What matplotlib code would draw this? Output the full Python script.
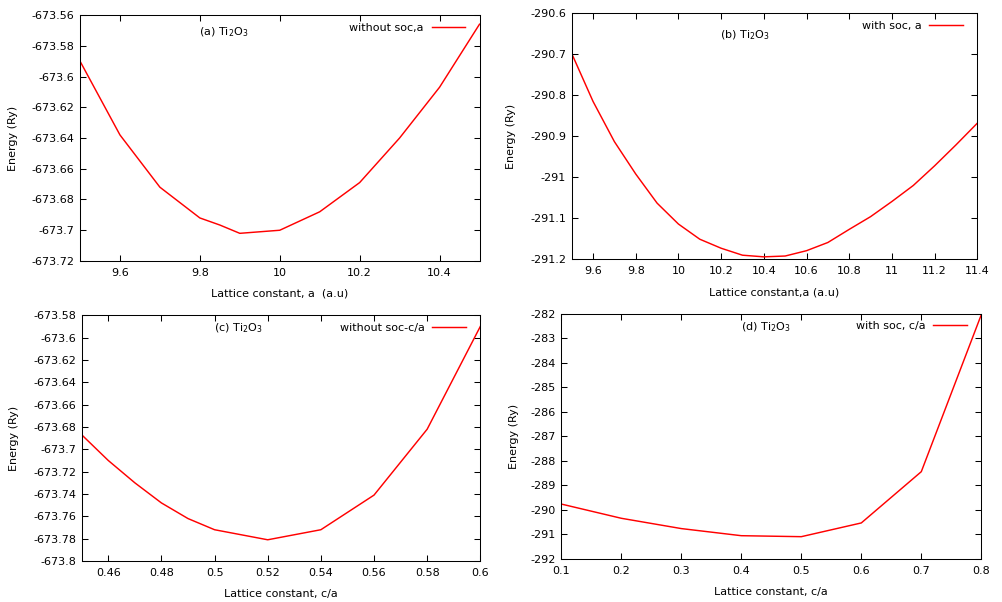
import matplotlib
matplotlib.use("Agg")
import matplotlib.pyplot as plt

plt.rcParams['font.family'] = ['DejaVu Sans']
plt.rcParams['font.size'] = 8
plt.rcParams['mathtext.fontset'] = 'dejavusans'

# Panel (a): without soc, lattice constant a
xa = [9.5, 9.6, 9.7, 9.8, 9.85, 9.9, 10.0, 10.1, 10.2, 10.3, 10.4, 10.5]
ea = [-673.590, -673.638, -673.672, -673.692, -673.6966, -673.702, -673.700,
      -673.688, -673.669, -673.640, -673.607, -673.566]

# Panel (b): with soc, lattice constant a
xb = [9.5, 9.6, 9.7, 9.8, 9.9, 10.0, 10.1, 10.2, 10.3, 10.4, 10.5, 10.6, 10.7,
      10.8, 10.9, 11.0, 11.1, 11.2, 11.3, 11.4]
eb = [-290.698, -290.815, -290.913, -290.992, -291.063, -291.114, -291.151,
      -291.173, -291.190, -291.194, -291.192, -291.179, -291.159, -291.127,
      -291.096, -291.059, -291.020, -290.972, -290.921, -290.868]

# Panel (c): without soc, c/a
xc = [0.45, 0.46, 0.47, 0.48, 0.49, 0.50, 0.52, 0.54, 0.56, 0.58, 0.60]
ec = [-673.687, -673.710, -673.730, -673.748, -673.762, -673.772, -673.781,
      -673.772, -673.741, -673.682, -673.590]

# Panel (d): with soc, c/a
xd = [0.1, 0.2, 0.3, 0.4, 0.5, 0.6, 0.7, 0.8]
ed = [-289.76, -290.34, -290.76, -291.05, -291.09, -290.53, -288.44, -282.04]

labels = ["without soc,a", "with soc, a", "without soc-c/a", "with soc, c/a"]
titles = ["(a) Ti$_2$O$_3$", "(b) Ti$_2$O$_3$", "(c) Ti$_2$O$_3$", "(d) Ti$_2$O$_3$"]
xlabels = ["Lattice constant, a  (a.u)", "Lattice constant,a (a.u)",
           "Lattice constant, c/a", "Lattice constant, c/a"]
xlims = [(9.5, 10.5), (9.5, 11.4), (0.45, 0.6), (0.1, 0.8)]
ylims = [(-673.72, -673.56), (-291.2, -290.6), (-673.8, -673.58), (-292, -282)]
xticks = [[9.6, 9.8, 10.0, 10.2, 10.4],
          [9.6, 9.8, 10.0, 10.2, 10.4, 10.6, 10.8, 11.0, 11.2, 11.4],
          [0.46, 0.48, 0.50, 0.52, 0.54, 0.56, 0.58, 0.60],
          [0.1, 0.2, 0.3, 0.4, 0.5, 0.6, 0.7, 0.8]]
yticks = [[-673.72, -673.70, -673.68, -673.66, -673.64, -673.62, -673.60, -673.58, -673.56],
          [-291.2, -291.1, -291.0, -290.9, -290.8, -290.7, -290.6],
          [-673.80, -673.78, -673.76, -673.74, -673.72, -673.70, -673.68, -673.66,
           -673.64, -673.62, -673.60, -673.58],
          [-292, -291, -290, -289, -288, -287, -286, -285, -284, -283, -282]]

W, H = 1002, 602
# axes boxes in pixels: left, top, right, bottom
boxes = [(80, 15, 479.5, 261), (571.7, 13.3, 977.3, 259.3),
         (81.7, 315.3, 480.3, 561), (561.3, 313.7, 981.3, 559)]
title_pos = [(0.36, 0.932), (0.428, 0.912), (0.394, 0.947), (0.488, 0.947)]
ylabel_x = [13, 511, 14, 514]
xlabel_y = [294, 292.3, 594, 592.3]
legend_y = [27, 25, 327, 325]


def fmt_tick(v):
    return "{:g}".format(round(v, 6))


fig = plt.figure(figsize=(W / 100, H / 100), dpi=100)
data = [(xa, ea), (xb, eb), (xc, ec), (xd, ed)]
for i, (x, e) in enumerate(data):
    l, t, r, b = boxes[i]
    ax = fig.add_axes([l / W, 1 - b / H, (r - l) / W, (b - t) / H])
    ax.plot(x, e, color='#ff0000', lw=1.05, label=labels[i])
    ax.set_xticks(xticks[i])
    ax.set_xticklabels([fmt_tick(v) for v in xticks[i]])
    ax.set_yticks(yticks[i])
    ax.set_yticklabels([fmt_tick(v) for v in yticks[i]])
    ax.set_xlim(*xlims[i])
    ax.set_ylim(*ylims[i])
    ax.tick_params(direction='in', length=4.5, width=0.75, top=True, right=True,
                   labelsize=8, colors='black')
    ax.tick_params(axis='x', pad=5)
    ax.tick_params(axis='y', pad=4)
    for s in ax.spines.values():
        s.set_linewidth(0.75)
        s.set_color('black')
    wpx, hpx = r - l, b - t
    ax.text(title_pos[i][0], title_pos[i][1], titles[i], transform=ax.transAxes,
            ha='center', va='center', fontsize=8)
    ax.set_ylabel("Energy (Ry)", fontsize=8, va='center')
    ax.yaxis.set_label_coords((ylabel_x[i] - l) / wpx, 0.5)
    ax.set_xlabel(xlabels[i], fontsize=8, va='center')
    ax.xaxis.set_label_coords(0.5, (b - xlabel_y[i]) / hpx)
    ly = legend_y[i] - t
    ax.legend(loc='upper right', frameon=False, markerfirst=False,
              handlelength=3.0, handletextpad=0.7, borderaxespad=0, borderpad=0,
              bbox_to_anchor=(1 - 14.5 / wpx, 1 - (ly - 4.5) / hpx), fontsize=8)

fig.savefig("out.png", dpi=100)
